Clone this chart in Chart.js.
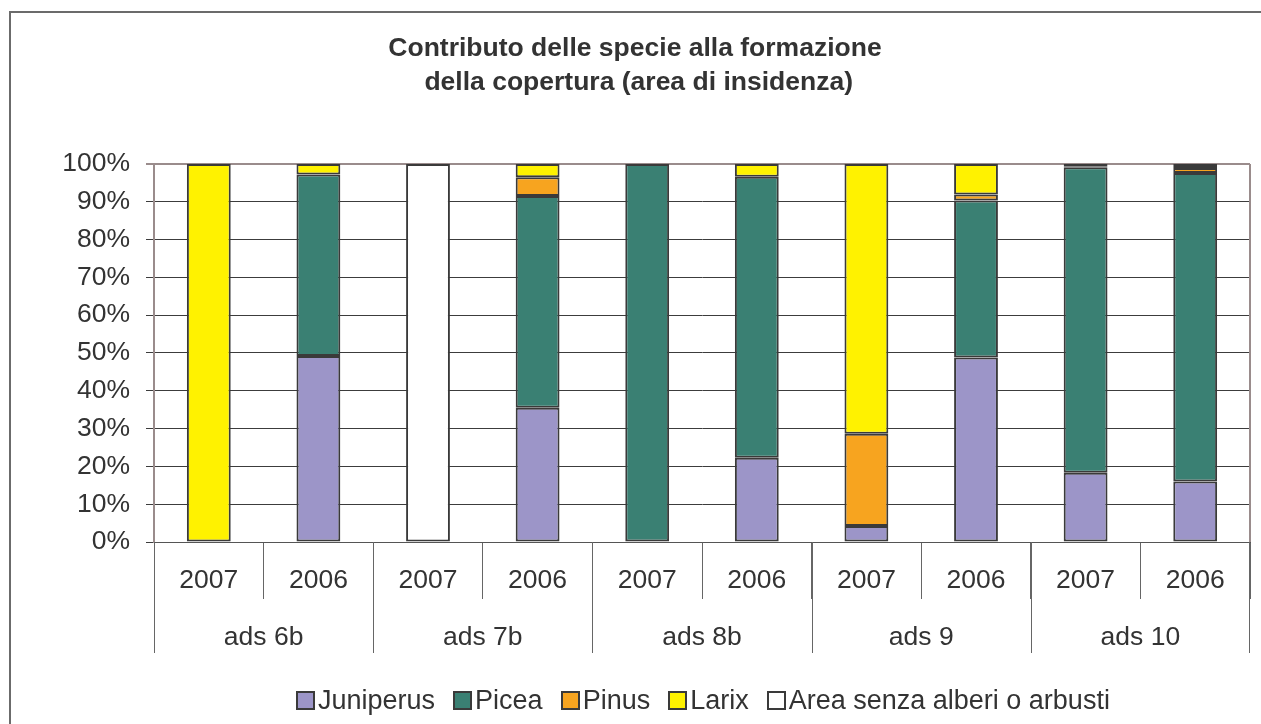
<!DOCTYPE html>
<html>
<head>
<meta charset="utf-8">
<script src="https://cdn.jsdelivr.net/npm/chart.js@4"></script>
<style>
  html, body { margin: 0; padding: 0; background: #fff; overflow: hidden; }
  body { width: 1261px; height: 724px; position: relative; font-family: "Liberation Sans", Arial, sans-serif; }
  .cornice { position: absolute; left: 9px; top: 11px; width: 1400px; height: 800px; border: 2px solid #6b6b6b; box-sizing: border-box; }
  .contenitore { position: absolute; left: 0; top: 0; width: 1279px; height: 724px; }
  .legenda { position: absolute; left: 296px; top: 685px; font-size: 27px; color: #333; white-space: nowrap; }
  .legenda span.voce { margin-right: 18px; }
  .legenda span.box { display: inline-block; width: 15px; height: 15px; border: 2px solid #3a3a3a; margin-right: 3px; vertical-align: -1px; }
</style>
</head>
<body>
<div class="cornice"></div>
<div class="contenitore"><canvas id="grafico"></canvas></div>
<div class="legenda" id="legenda"></div>
<script>
// Dati (percentuali)
const gruppi = ['ads 6b', 'ads 7b', 'ads 8b', 'ads 9', 'ads 10'];
const anni = ['2007', '2006', '2007', '2006', '2007', '2006', '2007', '2006', '2007', '2006'];

const juniperus = [null, 49.2, null, 35.5, null, 22.3, 4.2, 48.8, 18.3, 16];
const picea     = [null, 48, null, 56, 100, 74.3, null, 41.5, 80.8, 81.6];
const pinus     = [null, null, null, 5, null, null, 24.4, 1.6, 0.3, 1.3];
const larix     = [100, 2.8, null, 3.5, null, 3.4, 71.4, 8.1, 0.6, 1.1];
const areaSenza = [null, null, 100, null, null, null, null, null, null, null];

const nomiSerie = ['Juniperus', 'Picea', 'Pinus', 'Larix', 'Area senza alberi o arbusti'];
const coloriSerie = ['#9c95c8', '#3a8073', '#f7a41f', '#fff200', '#ffffff'];
const valoriSerie = [juniperus, picea, pinus, larix, areaSenza];

const tickY = [0, 10, 20, 30, 40, 50, 60, 70, 80, 90, 100];

const font = "'Liberation Sans', Arial, sans-serif";
const coloreTesto = '#333333';
const coloreBordo = '#9a8c8c';
const dimTesto = 26.5;

// Legenda in HTML
const legendaEl = document.getElementById('legenda');
legendaEl.innerHTML = nomiSerie.map((nome, i) =>
  `<span class="voce"><span class="box" style="background:${coloriSerie[i]}"></span>${nome}</span>`
).join('');

// Etichette dei gruppi e separatori lunghi sotto l'asse x
const pluginGruppi = {
  id: 'gruppi',
  afterDraw(chart) {
    const ctx = chart.ctx;
    const x = chart.scales.x;
    const area = chart.chartArea;
    ctx.save();
    // bordo destro dell'area del grafico
    ctx.strokeStyle = coloreBordo;
    ctx.lineWidth = 2;
    ctx.beginPath();
    ctx.moveTo(area.right, area.top);
    ctx.lineTo(area.right, area.bottom);
    ctx.stroke();

    ctx.strokeStyle = '#666';
    ctx.lineWidth = 1;
    ctx.fillStyle = coloreTesto;
    ctx.font = dimTesto + 'px ' + font;
    ctx.textAlign = 'center';
    ctx.textBaseline = 'middle';
    gruppi.forEach((g, gi) => {
      const i0 = gi * 2;
      const sinistra = i0 === 0 ? x.left : (x.getPixelForValue(i0 - 1) + x.getPixelForValue(i0)) / 2;
      const destra = i0 + 1 === anni.length - 1 ? x.right : (x.getPixelForValue(i0 + 1) + x.getPixelForValue(i0 + 2)) / 2;
      ctx.beginPath();
      ctx.moveTo(Math.round(sinistra) + 0.5, area.bottom);
      ctx.lineTo(Math.round(sinistra) + 0.5, area.bottom + 111);
      ctx.stroke();
      if (gi === gruppi.length - 1) {
        ctx.beginPath();
        ctx.moveTo(Math.round(destra) - 0.5, area.bottom);
        ctx.lineTo(Math.round(destra) - 0.5, area.bottom + 111);
        ctx.stroke();
      }
      ctx.fillText(g, (sinistra + destra) / 2, area.bottom + 96);
    });
    ctx.restore();
  }
};

const ctx = document.getElementById('grafico').getContext('2d');
new Chart(ctx, {
  type: 'bar',
  data: {
    labels: anni,
    datasets: nomiSerie.map((nome, i) => ({
      label: nome,
      data: valoriSerie[i],
      backgroundColor: coloriSerie[i],
      borderColor: '#3a3a3a',
      borderWidth: 2,
      borderSkipped: false,
      categoryPercentage: 1,
      barPercentage: 0.4
    }))
  },
  options: {
    responsive: true,
    maintainAspectRatio: false,
    animation: false,
    layout: { padding: { left: 20, right: 29, top: 0, bottom: 0 } },
    plugins: {
      legend: { display: false },
      tooltip: { enabled: false },
      title: {
        display: true,
        text: ['Contributo delle specie alla formazione', ' della copertura (area di insidenza)'],
        color: coloreTesto,
        font: { family: font, size: dimTesto, weight: 'bold', lineHeight: 1.3 },
        padding: { top: 31, bottom: 64 }
      }
    },
    scales: {
      x: {
        stacked: true,
        afterFit(scale) { scale.height = 182; },
        grid: { drawOnChartArea: false, offset: true, tickLength: 57, color: '#666', lineWidth: 1 },
        border: { color: '#555', width: 1 },
        ticks: { color: coloreTesto, font: { family: font, size: dimTesto }, padding: -34, maxRotation: 0, autoSkip: false }
      },
      y: {
        stacked: true,
        min: 0,
        max: 100,
        afterFit(scale) { scale.width = 134; },
        afterBuildTicks(scale) { scale.ticks = tickY.map(v => ({ value: v })); },
        grid: {
          color: c => (c.tick && c.tick.value === 100) ? coloreBordo : '#3c3c3c',
          lineWidth: c => (c.tick && c.tick.value === 100) ? 2 : 1,
          tickLength: 8
        },
        border: { color: coloreBordo, width: 2 },
        ticks: {
          color: coloreTesto,
          font: { family: font, size: dimTesto },
          padding: 16,
          callback: v => v + '%'
        }
      }
    }
  },
  plugins: [pluginGruppi]
});
</script>
</body>
</html>
